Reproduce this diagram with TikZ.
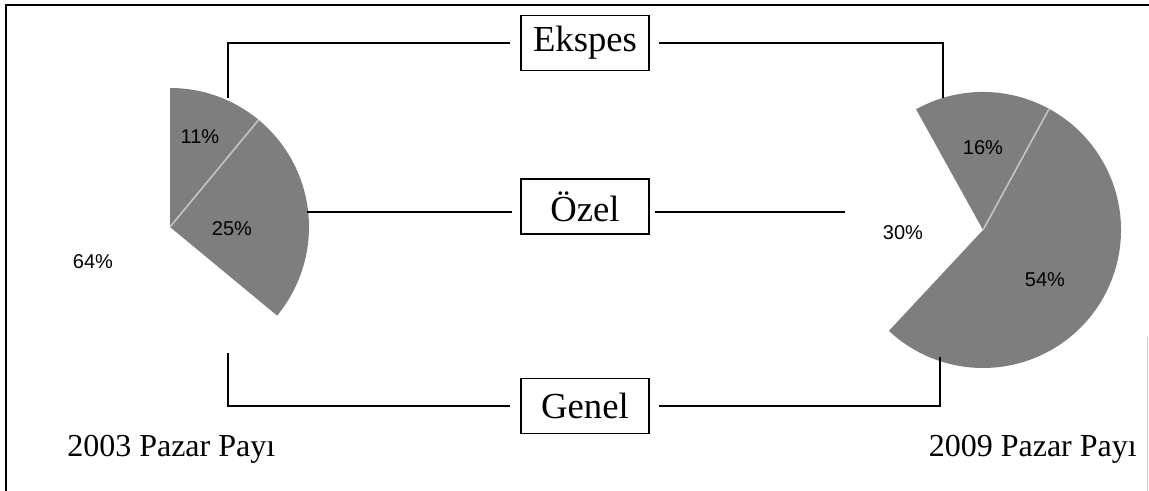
\documentclass[tikz,border=0pt]{standalone}
\usepackage{fontspec}
\setmainfont{Liberation Serif}
\newfontfamily\lsans{Liberation Sans}
\definecolor{piegray}{HTML}{7E7E7E}
\definecolor{piedivider}{HTML}{C4C4C4}
\begin{document}
\begin{tikzpicture}[x=0.75pt,y=0.75pt,
  box/.style={draw=black, line width=1.1pt, minimum width=96pt, minimum height=41.25pt, inner sep=0pt, font=\fontsize{27.5}{30}\selectfont},
  conn/.style={draw=black, line width=1.1pt},
  slice/.style={fill=piegray},
  divider/.style={draw=piedivider, line width=1.2pt},
  pct/.style={font=\lsans\fontsize{15}{17}\selectfont, inner sep=0pt},
  title/.style={font=\fontsize{24}{26}\selectfont, inner sep=0pt}]
\useasboundingbox (0,0) rectangle (1149,491);
% frame
\draw[line width=1.5pt] (6,0) -- (6,486) -- (1149,486);
\draw[gray!40, line width=0.75pt] (1147,0) -- (1147,154);
% left pie
\coordinate (lc) at (170,264);
\fill[slice] (lc) -- ++(90:104.25pt) arc[start angle=90, end angle=-39.6, radius=104.25pt] -- cycle;
\draw[divider] (lc) -- ++(50.4:104.25pt);
\node[pct] (p11) at (200,354) {11\%};
\node[pct] (p25) at (232,262) {25\%};
\node[pct] (p64) at (93,229) {64\%};
% right pie
\coordinate (rc) at (983,261);
\fill[slice] (rc) -- ++(119:103.5pt) arc[start angle=119, end angle=-133, radius=103.5pt] -- cycle;
\draw[divider] (rc) -- ++(61.4:103.5pt);
\node[pct] (p16) at (983,343) {16\%};
\node[pct] (p54) at (1045,211) {54\%};
\node[pct] (p30) at (903,258) {30\%};
% boxes
\node[box] (ek) at (585,448) {Ekspes\hspace{10.5pt}};
\node[box] (oz) at (585,284.5) {Özel\hspace{21.75pt}};
\node[box] (ge) at (585,85) {Genel\hspace{6.75pt}};
% connectors
\coordinate (t1) at (228,393);
\coordinate (t2) at (943,393);
\coordinate (m1) at (307,279);
\coordinate (m2) at (845,279);
\coordinate (b1) at (228,138);
\coordinate (b2) at (940,134);
\draw[conn, shorten >=7.5pt] (t1) |- (ek.west);
\draw[conn, shorten <=6.75pt] (ek.east) -| (t2);
\draw[conn, shorten >=6pt] (m1) -- (oz.west |- m1);
\draw[conn, shorten <=3.75pt] (oz.east |- m2) -- (m2);
\draw[conn, shorten >=7.5pt] (b1) |- (ge.west);
\draw[conn, shorten <=6.75pt] (ge.east) -| (b2);
% titles
\node[title, anchor=base west] (t03) at (67,34) {2003 Pazar Payı};
\node[title, anchor=base east] (t09) at (1137,34) {2009 Pazar Payı};
\end{tikzpicture}
\end{document}
